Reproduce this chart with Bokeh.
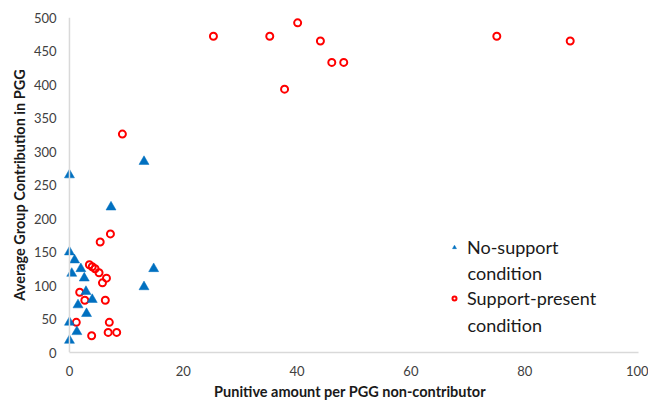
from bokeh.plotting import figure
from bokeh.models import Range1d, Span, Legend, LegendItem, Label, ColumnDataSource
from bokeh.embed import file_html
from bokeh.resources import INLINE

# --- data -----------------------------------------------------------------
no_support_x = [0, 13.1, 7.3, 0, 0.9, 2.0, 0.4, 2.6, 14.8, 13.1, 2.9, 4.0, 1.5, 3.0, 0, 1.3, 0]
no_support_y = [265, 285, 217, 150, 138, 125, 118, 111, 125, 98, 91, 79, 71, 58, 45, 31, 18]

support_x = [25.3, 35.2, 40.1, 44.1, 46.1, 48.2, 37.8, 75.1, 88.0, 9.3,
             7.2, 5.4, 3.5, 4.0, 4.5, 5.2, 6.5, 5.8, 1.8, 2.7, 6.3, 1.2, 7.0, 3.9, 6.8, 8.3]
support_y = [472, 472, 492, 465, 433, 433, 393, 472, 465, 326,
             177, 165, 131, 128, 125, 119, 111, 104, 90, 78, 78, 45, 45, 25, 30, 30]

x_ticks = [0, 20, 40, 60, 80, 100]
y_ticks = [0, 50, 100, 150, 200, 250, 300, 350, 400, 450, 500]

x_title = "Punitive amount per PGG non-contributor"
y_title = "Average Group Contribution in PGG"
label_no = "No-support"
label_sup = "Support-present"
label_cond = "condition"

FONT = "Lato"

p = figure(width=648, height=404, output_backend="svg", toolbar_location=None,
           x_range=Range1d(-1.4, 100), y_range=Range1d(0, 500),
           min_border_left=61, min_border_right=10, min_border_top=17, min_border_bottom=52)
p.outline_line_color = None
p.grid.grid_line_color = None
p.background_fill_color = "white"

for ax in (p.xaxis[0], p.yaxis[0]):
    ax.major_tick_line_color = None
    ax.minor_tick_line_color = None
    ax.major_tick_out = 0
    ax.major_tick_in = 0
    ax.major_label_text_font = FONT
    ax.major_label_text_font_size = "13px"
    ax.major_label_text_color = "#404040"
    ax.axis_label_text_font = FONT
    ax.axis_label_text_font_style = "bold"
    ax.axis_label_text_font_size = "14.5px"
    ax.axis_label_text_color = "#1a1a1a"

p.xaxis.ticker = x_ticks
p.yaxis.ticker = y_ticks
p.xaxis.bounds = (0, 100)
p.xaxis.axis_line_color = "#d9d9d9"
p.xaxis.axis_line_width = 1.5
p.xaxis.major_label_standoff = 13
p.xaxis.axis_label_standoff = 4
p.xaxis.axis_label = x_title

p.yaxis.axis_line_color = None
p.yaxis.major_label_standoff = 5
p.yaxis.axis_label_standoff = 3
p.yaxis.axis_label = y_title

p.add_layout(Span(location=0, dimension="height", line_color="#d9d9d9", line_width=1.5))

src_no = ColumnDataSource(dict(x=no_support_x, y=no_support_y))
src_sup = ColumnDataSource(dict(x=support_x, y=support_y))

r_sup = p.scatter("x", "y", source=src_sup, marker="circle", size=7,
                  fill_color="white", fill_alpha=0, line_color="#ff0000", line_width=2)
r_no = p.scatter("x", "y", source=src_no, marker="triangle", size=10,
                 fill_color="#0070c0", line_color="#0070c0", line_width=0.5)

legend = Legend(items=[LegendItem(label=label_no, renderers=[r_no]),
                       LegendItem(label=label_sup, renderers=[r_sup])],
                location=(388, 43), padding=0, margin=0, spacing=29,
                label_height=20, glyph_height=20, glyph_width=10, label_standoff=8,
                border_line_color=None, background_fill_alpha=0,
                label_text_font=FONT, label_text_font_size="18px", label_text_color="#1a1a1a")
p.add_layout(legend)

for yy in (80, 28):
    p.add_layout(Label(x=406, y=yy, x_units="screen", y_units="screen", text=label_cond,
                       text_font=FONT, text_font_size="18px", text_color="#1a1a1a",
                       text_baseline="middle", text_align="left"))

open("out.html", "w").write(file_html(p, INLINE))
